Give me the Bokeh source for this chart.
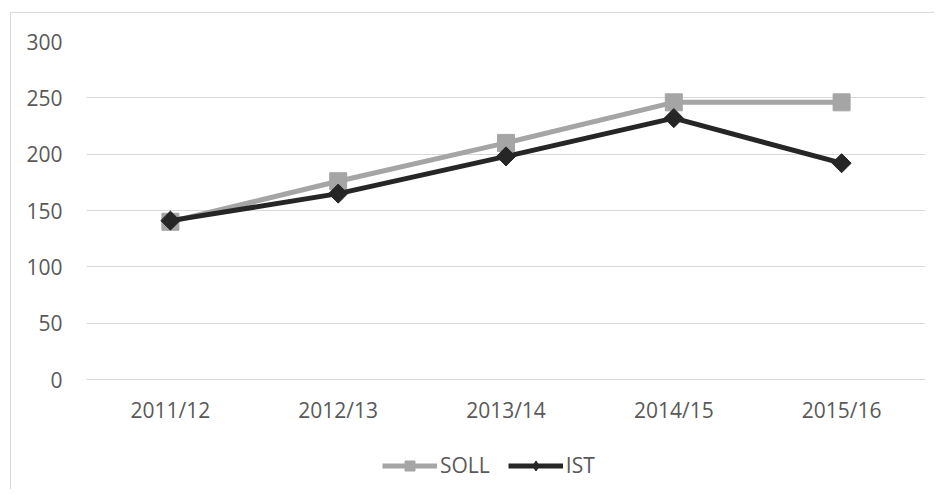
import math
from bokeh.plotting import figure
from bokeh.layouts import column
from bokeh.models import Legend, LegendItem, FactorRange, ColumnDataSource, Range1d
from bokeh.embed import file_html
from bokeh.resources import INLINE

categories = ["2011/12", "2012/13", "2013/14", "2014/15", "2015/16"]
soll = [140, 176, 210, 246, 246]
ist = [141, 165, 198, 232, 192]
y_ticks = [0, 50, 100, 150, 200, 250, 300]
series_names = ["SOLL", "IST"]

FONT = "Open Sans"
TXT = "#595959"
GRID = "#D9D9D9"
C_SOLL = "#A5A5A5"
C_IST = "#262626"

src = ColumnDataSource(dict(cat=categories, soll=soll, ist=ist))

p = figure(width=924, height=421, x_range=FactorRange(*categories), y_range=(0, 300),
           output_backend="svg", toolbar_location=None,
           min_border_left=75, min_border_right=10, min_border_top=28, min_border_bottom=55)
p.outline_line_color = None
p.background_fill_color = "white"
p.border_fill_color = "white"
p.styles = {"border-left": "1px solid #D9D9D9", "border-top": "1px solid #D9D9D9"}

p.xgrid.grid_line_color = None
p.ygrid.grid_line_color = GRID
p.ygrid.grid_line_width = 1
p.yaxis.ticker = y_ticks

for ax in (p.xaxis, p.yaxis):
    ax.major_tick_line_color = None
    ax.minor_tick_line_color = None
    ax.major_label_text_font = FONT
    ax.major_label_text_font_size = "21px"
    ax.major_label_text_color = TXT
p.yaxis.axis_line_color = None
p.xaxis.axis_line_color = GRID
p.xaxis.axis_line_width = 1
p.yaxis.major_label_standoff = 18
p.xaxis.major_label_standoff = 10
p.x_range.range_padding = 0

p.line("cat", "soll", source=src, line_color=C_SOLL, line_width=5)
p.scatter("cat", "soll", source=src, marker="square", size=17, fill_color=C_SOLL, line_color=C_SOLL)
p.line("cat", "ist", source=src, line_color=C_IST, line_width=5)
p.scatter("cat", "ist", source=src, marker="square", angle=math.pi / 4, size=13.5,
          fill_color=C_IST, line_color=C_IST)

# legend strip below the chart
lg = figure(width=924, height=56, x_range=Range1d(0, 924), y_range=Range1d(0, 56),
            output_backend="svg", toolbar_location=None,
            min_border_left=0, min_border_right=0, min_border_top=0, min_border_bottom=0)
lg.axis.visible = False
lg.grid.visible = False
lg.outline_line_color = None
lg.border_fill_color = "white"
lg.styles = {"border-left": "1px solid #D9D9D9"}

nan = float("nan")
ls = lg.line(x=[nan, nan], y=[nan, nan], line_color=C_SOLL, line_width=5)
ms = lg.scatter(x=[nan], y=[nan], marker="square", size=9, fill_color=C_SOLL, line_color=C_SOLL)
li = lg.line(x=[nan, nan], y=[nan, nan], line_color=C_IST, line_width=5)
mi = lg.scatter(x=[nan], y=[nan], marker="diamond", size=11,
                fill_color=C_IST, line_color=C_IST)

legend = Legend(items=[LegendItem(label=series_names[0], renderers=[ls, ms]),
                       LegendItem(label=series_names[1], renderers=[li, mi])],
                orientation="horizontal", location=(296, 10),
                glyph_width=55, glyph_height=25, label_height=25, label_standoff=3, spacing=18,
                label_text_font=FONT, label_text_font_size="21px", label_text_color=TXT,
                border_line_color=None, background_fill_alpha=0, padding=4, margin=0)
lg.add_layout(legend, "center")

layout = column(p, lg, spacing=0)
layout.margin = (12, 0, 0, 10)

open("out.html", "w").write(file_html(layout, INLINE))
